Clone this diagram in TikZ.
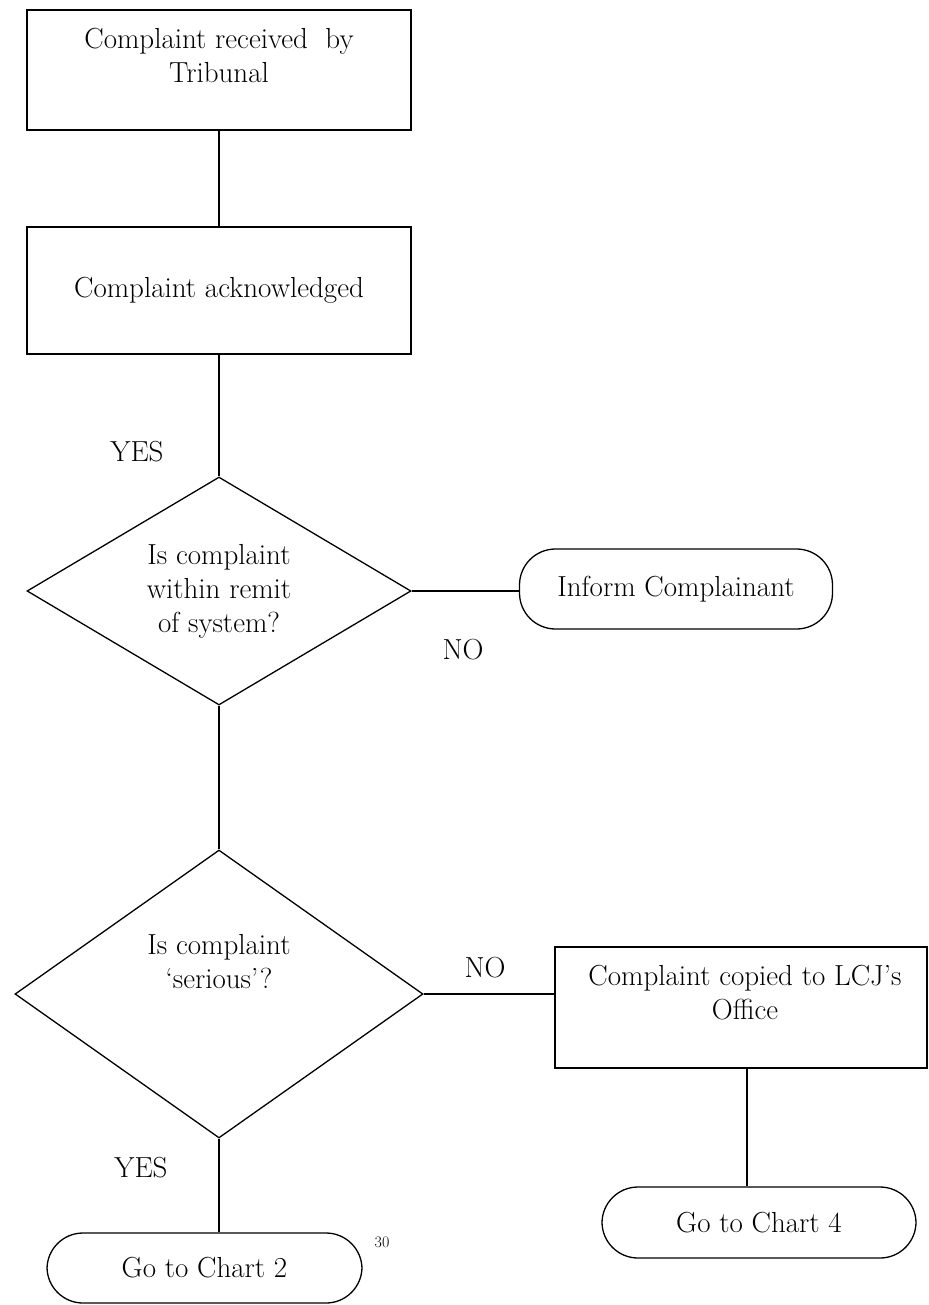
\documentclass[tikz,border=0pt]{standalone}
\usetikzlibrary{shapes.geometric}
\newcommand{\txtfont}{\fontsize{29}{34}\selectfont}
\newcommand{\notefont}{\fontsize{16}{18}\selectfont}
\begin{document}
\begin{tikzpicture}[x=1pt,y=-1pt,
  every node/.style={font=\txtfont, align=center},
  box/.style={draw, line width=1.3pt, rectangle, inner sep=0pt},
  pill/.style={draw, line width=1.3pt, rectangle, rounded corners=36pt, inner sep=0pt},
  dia/.style={draw, line width=1.3pt, diamond, inner sep=0pt},
  conn/.style={line width=1.3pt},
  lbl/.style={font=\txtfont},
  note/.style={font=\notefont}]
\useasboundingbox (0,0) rectangle (928,1305);
\node[box, minimum width=384pt, minimum height=120pt,
  label={[yshift=15pt, align=center, font=\txtfont]center:Complaint received\ \ by\\Tribunal}] (b1) at (219,70) {};
\node[box, minimum width=384pt, minimum height=127pt] (b2) at (219,290.5) {Complaint acknowledged};
\node[dia, minimum width=384pt, minimum height=228pt,
  label={[align=center, font=\txtfont]center:Is complaint\\within remit\\of system?}] (d1) at (219,591) {};
\node[pill, minimum width=313pt, minimum height=80pt] (inf) at (676,589) {Inform Complainant};
\node[dia, minimum width=408pt, minimum height=288pt,
  label={[yshift=32pt, align=center, font=\txtfont]center:Is complaint\\`serious'?}] (d2) at (219,994) {};
\node[box, minimum width=372pt, minimum height=121pt,
  label={[yshift=15pt, xshift=4pt, align=center, font=\txtfont]center:Complaint copied to LCJ's\\Office}] (b3) at (741,1007.5) {};
\node[pill, minimum width=314pt, minimum height=71pt] (c4) at (759,1222.5) {Go to Chart 4};
\node[pill, minimum width=315pt, minimum height=70pt] (c2) at (204.5,1268) {Go to Chart 2};
\node[lbl] (yes1) at (137,452) {YES};
\node[lbl] (no1) at (463,650) {NO};
\node[lbl] (no2) at (485,968) {NO};
\node[lbl] (yes2) at (141,1168) {YES};
\node[note] (pg) at (382,1242) {30};
\draw[conn] (b1) -- (b2);
\draw[conn] (b2) -- (d1);
\draw[conn] (d1.east) -- (d1.east -| inf.west);
\draw[conn] (d1) -- (d2);
\draw[conn] (d2.east) -- (d2.east -| b3.west);
\draw[conn] ([xshift=6pt]b3.south) -- ([xshift=6pt]b3.south |- c4.north);
\draw[conn] (d2.south) -- (d2.south |- c2.north);
\end{tikzpicture}
\end{document}
